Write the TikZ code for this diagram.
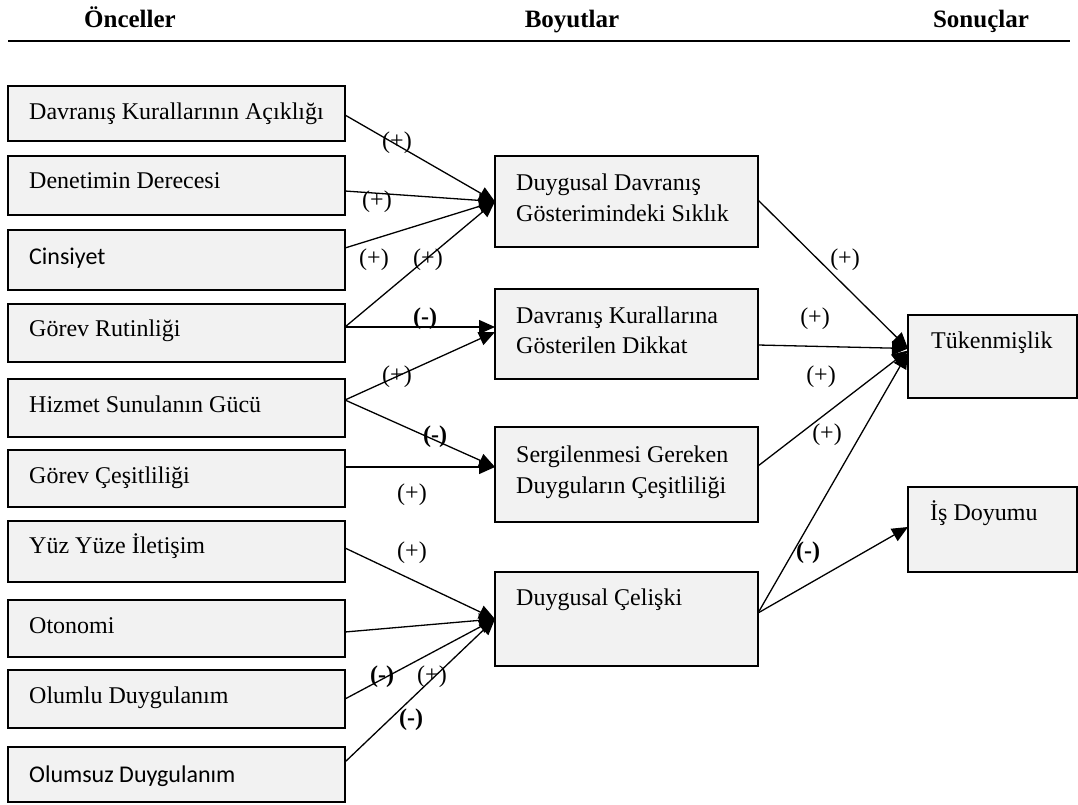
\documentclass[tikz,border=0pt]{standalone}
\usepackage{fontspec}
\setmainfont{Liberation Serif}
\newfontfamily\calibri{Carlito}
\usetikzlibrary{arrows.meta}
\definecolor{boxgray}{HTML}{F2F2F2}
\begin{document}
\begin{tikzpicture}[x=1pt,y=-1pt,
  box/.style={draw=black, line width=1.4pt, fill=boxgray, inner sep=0pt, outer sep=0pt},
  leftbox/.style={box, minimum width=337pt},
  midbox/.style={box, minimum width=263pt},
  rightbox/.style={box, minimum width=169pt},
  txt/.style={anchor=base west, inner sep=0pt, font=\fontsize{24pt}{31pt}\selectfont},
  head/.style={anchor=base, inner sep=0pt, font=\fontsize{25pt}{30pt}\selectfont\bfseries},
  sign/.style={inner sep=0pt, font=\fontsize{24pt}{28pt}\selectfont},
  neg/.style={sign, font=\fontsize{24pt}{28pt}\selectfont\bfseries},
  link/.style={line width=1.3pt, -{Triangle[length=16pt,width=14pt]}}]
\useasboundingbox (0,0) rectangle (1078,805);

% column headings
\node[head] (h1) at (130,28) {Önceller};
\node[head] (h2) at (572,28) {Boyutlar};
\node[head] (h3) at (981,28) {Sonuçlar};
\coordinate (rl) at (8,41);
\coordinate (rr) at (1070,41);
\draw[line width=2pt] (rl) -- (rr);

% antecedents
\node[leftbox, minimum height=55pt] (b1) at (176.5,113.5) {};
\node[leftbox, minimum height=59pt] (b2) at (176.5,185.5) {};
\node[leftbox, minimum height=60pt] (b3) at (176.5,260) {};
\node[leftbox, minimum height=58pt] (b4) at (176.5,333) {};
\node[leftbox, minimum height=58pt] (b5) at (176.5,408) {};
\node[leftbox, minimum height=57pt] (b6) at (176.5,478.5) {};
\node[leftbox, minimum height=61pt] (b7) at (176.5,551.5) {};
\node[leftbox, minimum height=57pt] (b8) at (176.5,628.5) {};
\node[leftbox, minimum height=58pt] (b9) at (176.5,699) {};
\node[leftbox, minimum height=55pt] (b10) at (176.5,774.5) {};

\node[txt] (t1) at (29,120) {Davranış Kurallarının Açıklığı};
\node[txt] (t2) at (29,189) {Denetimin Derecesi};
\node[txt] (t3) at (29,264) {\calibri Cinsiyet};
\node[txt] (t4) at (29,336) {Görev Rutinliği};
\node[txt] (t5) at (29,412) {Hizmet Sunulanın Gücü};
\node[txt] (t6) at (29,483) {Görev Çeşitliliği};
\node[txt] (t7) at (29,553) {Yüz Yüze İletişim};
\node[txt] (t8) at (29,633) {Otonomi};
\node[txt] (t9) at (29,703) {Olumlu Duygulanım};
\node[txt] (t10) at (29,782) {\calibri Olumsuz Duygulanım};

% dimensions
\node[midbox, minimum height=91pt] (m1) at (626.5,201.5) {};
\node[midbox, minimum height=90pt] (m2) at (626.5,334) {};
\node[midbox, minimum height=95pt] (m3) at (626.5,474.5) {};
\node[midbox, minimum height=94pt] (m4) at (626.5,619) {};

\node[txt] (m1a) at (516,190) {Duygusal Davranış};
\node[txt] (m1b) at (516,221) {Gösterimindeki Sıklık};
\node[txt] (m2a) at (516,323) {Davranış Kurallarına};
\node[txt] (m2b) at (516,353) {Gösterilen Dikkat};
\node[txt] (m3a) at (516,462) {Sergilenmesi Gereken};
\node[txt] (m3b) at (516,493) {Duyguların Çeşitliliği};
\node[txt] (m4a) at (516,605) {Duygusal Çelişki};

% outcomes
\node[rightbox, minimum height=83pt] (o1) at (992.5,356.5) {};
\node[rightbox, minimum height=85pt] (o2) at (992.5,529.5) {};
\node[txt] (o1a) at (931,348) {Tükenmişlik};
\node[txt] (o2a) at (930,520) {İş Doyumu};

% antecedents -> dimensions
\draw[link] ([yshift=-1.5pt]b1.east) -- (m1.west);
\draw[link] ([yshift=-5.5pt]b2.east) -- (m1.west);
\draw[link] ([yshift=12pt]b3.east) -- (m1.west);
\draw[link] ([yshift=6pt]b4.east) -- (m1.west);
\draw[link] ([yshift=6pt]b4.east) -- ([yshift=7pt]m2.west);
\draw[link] ([yshift=8pt]b5.east) -- ([yshift=2pt]m2.west);
\draw[link] ([yshift=8pt]b5.east) -- ([yshift=7.5pt]m3.west);
\draw[link] ([yshift=11.5pt]b6.east) -- ([yshift=7.5pt]m3.west);
\draw[link] ([yshift=3.5pt]b7.east) -- (m4.west);
\draw[link] ([yshift=-3.5pt]b8.east) -- (m4.west);
\draw[link] (b9.east) -- (m4.west);
\draw[link] ([yshift=12.5pt]b10.east) -- (m4.west);

% dimensions -> outcomes
\draw[link] ([yshift=1.5pt]m1.east) -- ([yshift=8pt]o1.west);
\draw[link] ([yshift=-11pt]m2.east) -- ([yshift=8pt]o1.west);
\draw[link] ([yshift=8.5pt]m3.east) -- ([yshift=6pt]o1.west);
\draw[link] ([yshift=6pt]m4.east) -- ([yshift=4pt]o1.west);
\draw[link] ([yshift=6pt]m4.east) -- ([yshift=2.5pt]o2.west);

% signs of the relations
\node[sign] (s1) at (397,143) {(+)};
\node[sign] (s2) at (377,202) {(+)};
\node[sign] (s3) at (374,260) {(+)};
\node[sign] (s4) at (428,260) {(+)};
\node[neg] (s5) at (425,319) {(-)};
\node[sign] (s6) at (397,377) {(+)};
\node[neg] (s7) at (435,437) {(-)};
\node[sign] (s8) at (412,495) {(+)};
\node[sign] (s9) at (412,553) {(+)};
\node[neg] (s10) at (382,677) {(-)};
\node[sign] (s11) at (432,677) {(+)};
\node[neg] (s12) at (411,720) {(-)};
\node[sign] (r1) at (845,260) {(+)};
\node[sign] (r2) at (815,319) {(+)};
\node[sign] (r3) at (821,377) {(+)};
\node[sign] (r4) at (827,435) {(+)};
\node[neg] (r5) at (808,553) {(-)};
\end{tikzpicture}
\end{document}
